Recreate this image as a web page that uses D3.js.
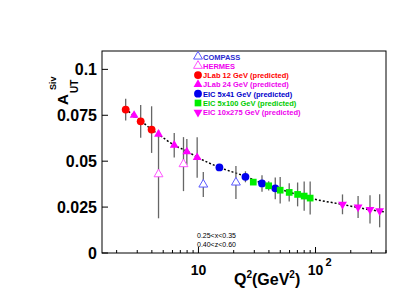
<!DOCTYPE html>
<html>
<head>
<meta charset="utf-8">
<script src="https://cdn.jsdelivr.net/npm/d3@7"></script>
<style>
  body { margin: 0; background: #fff; }
  text { font-family: "Liberation Sans", Arial, sans-serif; }
</style>
</head>
<body>
<svg id="chart" width="407" height="305"></svg>
<script>
// datos: [Q2, A, error]
var compass = [[11.0, 0.0373, 0.0068], [20.9, 0.0384, 0.009]];
var hermes = [[4.56, 0.0429, 0.024], [7.45, 0.0484, 0.0147]];
var jlab12 = [[2.39, 0.0781, 0.0059], [3.21, 0.0717, 0.0089], [3.98, 0.0672, 0.0127]];
var jlab24 = [[2.82, 0.0750, 0.0015], [4.56, 0.0647, 0.0020], [6.21, 0.0587, 0.0067], [7.96, 0.0551, 0.0070], [9.75, 0.0520, 0.0110]];
var eic541 = [[15.1, 0.0466, 0.0015], [25.2, 0.0415, 0.0030], [34.9, 0.0379, 0.0045], [45.3, 0.0352, 0.0059]];
var eic5100 = [[29.4, 0.0386, 0.0015], [39.8, 0.0366, 0.0025], [49.9, 0.0342, 0.0072], [59.6, 0.0330, 0.0050], [70.3, 0.0319, 0.0065], [80.0, 0.0310, 0.0080], [90.0, 0.0299, 0.0090]];
var eic10275 = [[170, 0.0265, 0.0054], [231, 0.0250, 0.0060], [292, 0.0237, 0.0077], [353, 0.0230, 0.0090]];
// curva de ajuste (puntos leidos)
var ajuste = [[2.37, 0.0783], [3.19, 0.0723], [3.95, 0.0674], [4.54, 0.0647], [6.21, 0.0587], [8.0, 0.0554], [9.75, 0.0522], [15.0, 0.0467], [25.0, 0.0418], [34.9, 0.0380], [49.6, 0.0348], [89.2, 0.0299], [170.6, 0.0264], [289, 0.0236], [397, 0.0223]];
var yTicks = [0, 0.025, 0.05, 0.075, 0.1];
var yTickLabels = ["0", "0.025", "0.05", "0.075", "0.1"];
var xMayores = [10, 100];
var leyenda = ["COMPASS", "HERMES", "JLab 12 GeV (predicted)", "JLab 24 GeV (predicted)", "EIC 5x41 GeV (predicted)", "EIC 5x100 GeV (predicted)", "EIC 10x275 GeV (predicted)"];
var cortes = ["0.25<x<0.35", "0.40<z<0.60"];

var svg = d3.select("#chart");
var mIzq = 102, mDer = 386, mSup = 51, mInf = 253;

var x = d3.scaleLog().domain([1.5, 400]).range([mIzq, mDer]);
var y = d3.scaleLinear().domain([0, 0.11]).range([mInf, mSup]);

// marco
svg.append("rect").attr("x", mIzq).attr("y", mSup).attr("width", mDer - mIzq).attr("height", mInf - mSup)
  .attr("fill", "none").attr("stroke", "#000").attr("stroke-width", 1);

// eje Y
var gy = svg.append("g");
yTicks.forEach(function(t, i) {
  gy.append("line").attr("x1", mIzq).attr("x2", mIzq + 6).attr("y1", y(t)).attr("y2", y(t)).attr("stroke", "#000");
  gy.append("text").attr("x", 97).attr("y", y(t) + 6).attr("text-anchor", "end")
    .attr("font-size", 16).attr("font-weight", "bold").text(yTickLabels[i]);
});

// eje X (log)
var xt = [2,3,4,5,6,7,8,9,10,20,30,40,50,60,70,80,90,100,200,300,400];
xt.forEach(function(t) {
  var mayor = xMayores.indexOf(t) >= 0;
  svg.append("line").attr("x1", x(t)).attr("x2", x(t)).attr("y1", mInf).attr("y2", mInf - (mayor ? 6 : 3)).attr("stroke", "#000");
});
svg.append("text").attr("x", x(10)).attr("y", 275).attr("text-anchor", "middle")
  .attr("font-size", 14).attr("font-weight", "bold").text("10");
svg.append("text").attr("x", x(100)).attr("y", 275).attr("text-anchor", "middle")
  .attr("font-size", 14).attr("font-weight", "bold").text("10");
svg.append("text").attr("x", x(100) + 10).attr("y", 266).attr("font-size", 11).attr("font-weight", "bold").text("2");

// titulo X
var tx = svg.append("text").attr("x", 234).attr("y", 285).attr("font-size", 16).attr("font-weight", "bold");
tx.append("tspan").text("Q");
tx.append("tspan").attr("dy", -7).attr("font-size", 10).text("2");
tx.append("tspan").attr("dy", 7).text("(GeV");
tx.append("tspan").attr("dy", -7).attr("font-size", 10).text("2");
tx.append("tspan").attr("dy", 7).text(")");

// titulo Y
var ty = svg.append("g").attr("transform", "translate(68,105) rotate(-90)");
ty.append("text").attr("x", 0).attr("y", 0).attr("font-size", 15).attr("font-weight", "bold").text("A");
ty.append("text").attr("x", 15).attr("y", -12).attr("font-size", 9).attr("font-weight", "bold").text("Siv");
ty.append("text").attr("x", 12).attr("y", 10).attr("font-size", 10).attr("font-weight", "bold").text("UT");

// cortes
cortes.forEach(function(c, i) {
  svg.append("text").attr("x", 197).attr("y", 238 + i * 9).attr("font-size", 7).text(c);
});

// curva
var linea = d3.line().x(function(d) { return x(d[0]); }).y(function(d) { return y(d[1]); }).curve(d3.curveMonotoneX);
svg.append("path").attr("d", linea(ajuste)).attr("fill", "none").attr("stroke", "#000")
  .attr("stroke-width", 1.5).attr("stroke-dasharray", "2,2");

var series = [
  {d: compass, s: d3.symbolTriangle, color: "#5a5aff", abierto: true, rot: 0, txt: "#2a2ad0"},
  {d: hermes, s: d3.symbolTriangle, color: "#ff55ff", abierto: true, rot: 0, txt: "#ee00ee"},
  {d: jlab12, s: d3.symbolCircle, color: "#ff0000", abierto: false, rot: 0, txt: "#ff0000"},
  {d: jlab24, s: d3.symbolTriangle, color: "#ff00ff", abierto: false, rot: 0, txt: "#ee00ee"},
  {d: eic541, s: d3.symbolCircle, color: "#0000ee", abierto: false, rot: 0, txt: "#0000cc"},
  {d: eic5100, s: d3.symbolSquare, color: "#00ee00", abierto: false, rot: 0, txt: "#00cc00"},
  {d: eic10275, s: d3.symbolTriangle, color: "#ff00ff", abierto: false, rot: 180, txt: "#ee00ee"}
];

// barras de error
series.forEach(function(se) {
  svg.append("g").selectAll("line").data(se.d).enter().append("line")
    .attr("x1", function(d) { return x(d[0]); }).attr("x2", function(d) { return x(d[0]); })
    .attr("y1", function(d) { return y(d[1] - d[2]); }).attr("y2", function(d) { return y(d[1] + d[2]); })
    .attr("stroke", "#666").attr("stroke-width", 1.3);
});

function marca(se) {
  var tam = se.s == d3.symbolCircle ? 48 : (se.s == d3.symbolSquare ? 45 : 34);
  return d3.symbol().type(se.s).size(tam)();
}

// marcadores
series.forEach(function(se) {
  svg.append("g").selectAll("path").data(se.d).enter().append("path")
    .attr("d", marca(se))
    .attr("transform", function(d) { return "translate(" + x(d[0]) + "," + y(d[1]) + ") rotate(" + se.rot + ")"; })
    .attr("fill", se.abierto ? "#fff" : se.color)
    .attr("stroke", se.color).attr("stroke-width", se.abierto ? 1 : 0);
});

// leyenda
series.forEach(function(se, i) {
  var yy = 56.5 + i * 9.3;
  svg.append("path").attr("d", marca(se))
    .attr("transform", "translate(198," + yy + ") rotate(" + se.rot + ")")
    .attr("fill", se.abierto ? "#fff" : se.color)
    .attr("stroke", se.color).attr("stroke-width", se.abierto ? 1 : 0);
  svg.append("text").attr("x", 203).attr("y", yy + 3).attr("font-size", 7.5).attr("font-weight", "bold")
    .attr("fill", se.txt).text(leyenda[i]);
});
</script>
</body>
</html>
